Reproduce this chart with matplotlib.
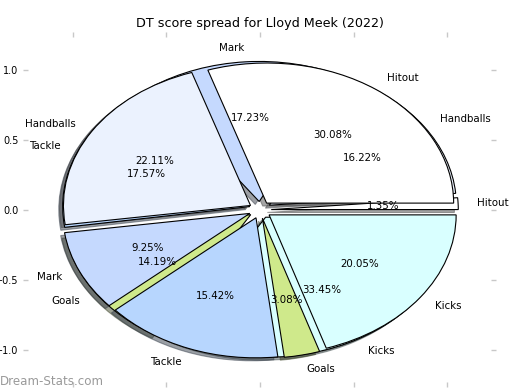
import matplotlib
matplotlib.use('Agg')
import matplotlib.pyplot as plt

# DT score categories, same order for both seasons' breakdowns
labels = ['Hitout', 'Handballs', 'Mark', 'Tackle', 'Goals', 'Kicks']
colours = ['#ffffff', '#ebf2fe', '#c5d9fe', '#b7d6fe', '#cfe98b', '#d9ffff']

# share of DT score (%) -- top layer and bottom layer pies
share_top = [30.08, 22.11, 9.25, 15.42, 3.08, 20.05]
share_bottom = [1.35, 16.22, 17.23, 17.57, 14.19, 33.45]

explode = [0.06] * len(labels)

fig = plt.figure(figsize=(5.2, 3.9), dpi=100)
ax = fig.add_axes([0.054, 0.021, 0.891, 0.884])

wedge_style = {'edgecolor': 'black', 'linewidth': 0.8}
txt_style = {'fontsize': 7.4}

# bottom pie first so the top one sits over it
for data in (share_bottom, share_top):
    ax.pie(data, labels=labels, colors=colours, explode=explode,
           autopct='%.2f%%', shadow={'ox': -0.015, 'oy': -0.015},
           startangle=0, wedgeprops=wedge_style, textprops=txt_style,
           frame=True)

ax.set_aspect('auto')
ax.set_xlim(-1.24, 1.237)
ax.set_ylim(-1.227, 1.234)
ax.set_xticks([-1.0, -0.5, 0.0, 0.5, 1.0])
ax.set_yticks([-1.0, -0.5, 0.0, 0.5, 1.0])
for s in ax.spines.values():
    s.set_visible(False)
ax.tick_params(top=True, right=True, color='#c8c8c8', length=3.5, width=1,
               labelsize=7)

ax.set_title('DT score spread for Lloyd Meek (2022)', fontsize=9.2, pad=7)

fig.text(0.0, 0.023, 'Dream-Stats.com', color='#9a9a9a', fontsize=8.6,
         ha='left', va='center')

fig.savefig('out.png', dpi=100)
